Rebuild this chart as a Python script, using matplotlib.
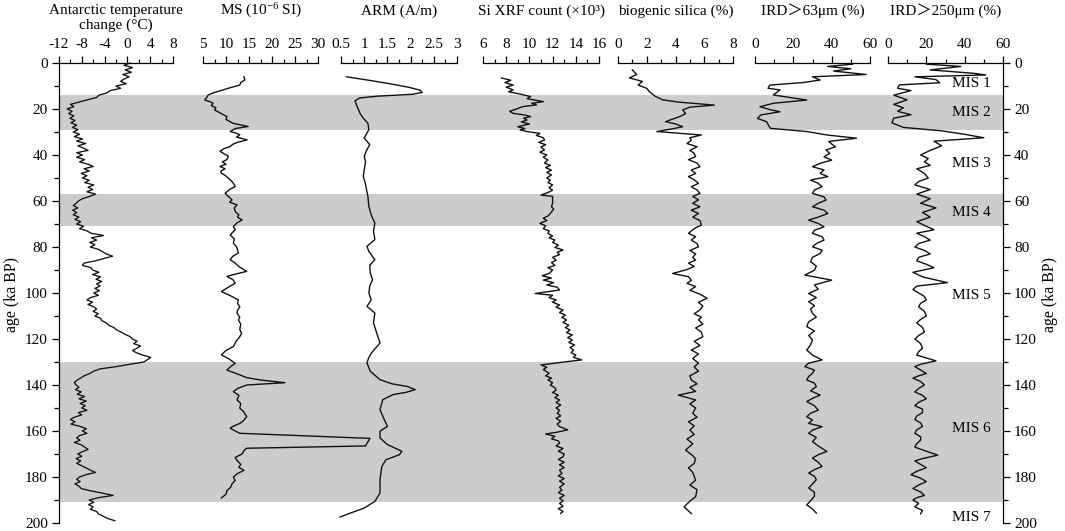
import matplotlib
matplotlib.use('Agg')
import matplotlib.pyplot as plt
from matplotlib.ticker import MultipleLocator

plt.rcParams['font.family'] = ['Liberation Serif', 'Noto Sans CJK SC']
plt.rcParams['mathtext.fontset'] = 'custom'
plt.rcParams['mathtext.rm'] = 'Liberation Serif'
plt.rcParams['mathtext.it'] = 'Liberation Serif:italic'

# Antarctic temperature change (deg C), 1 ka steps
temp_age = list(range(0, 200))
temp_val = [0.5, -0.6, 0.9, -0.4, 0.7, -0.8, 0.3, -0.6, -1.2, -0.2,
            -2.0, -1.2, -3.0, -3.6, -5.0, -5.4, -7.0, -8.5, -10.0, -9.4,
            -10.6, -9.7, -10.3, -9.4, -10.1, -9.2, -9.9, -8.9, -9.6, -8.7,
            -9.5, -8.4, -9.3, -7.9, -8.9, -7.3, -8.7, -7.7, -6.9, -8.9,
            -7.9, -8.9, -7.5, -8.4, -6.9, -6.0, -7.6, -6.7, -8.1, -7.1,
            -7.9, -6.7, -7.5, -5.9, -6.9, -6.1, -7.1, -5.6, -6.6, -7.9,
            -8.6, -9.0, -9.5, -8.7, -9.6, -8.9, -9.5, -8.5, -9.2, -8.2,
            -8.9, -7.7, -8.4, -7.1, -6.4, -4.2, -6.3, -5.4, -6.6, -5.7,
            -6.5, -5.1, -4.4, -3.7, -2.6, -4.1, -5.6, -7.6, -7.9, -6.4,
            -6.1, -5.0, -6.1, -4.7, -5.5, -4.5, -5.4, -4.8, -5.7, -4.9,
            -5.9, -5.1, -6.5, -7.1, -6.1, -6.9, -5.9, -5.4, -6.0, -5.1,
            -5.7, -4.7, -4.5, -3.7, -3.3, -2.4, -1.9, -1.1, -0.4, 0.5,
            0.9, 1.7, 1.1, 2.3, 1.7, 0.9, 1.6, 2.7, 4.1, 3.5,
            2.9, 0.4, -1.9, -4.8, -5.9, -6.6, -7.6, -8.2, -8.9, -9.3,
            -9.0, -8.5, -9.1, -8.1, -8.8, -7.5, -8.5, -7.2, -8.3, -7.4,
            -8.0, -7.1, -8.6, -8.0, -9.3, -10.0, -9.2, -9.9, -8.3, -7.2,
            -7.9, -7.1, -8.4, -8.9, -8.3, -9.3, -8.1, -7.5, -6.9, -7.9,
            -8.7, -8.0, -9.0, -8.2, -8.9, -8.1, -7.3, -6.5, -5.6, -7.3,
            -8.4, -8.9, -8.3, -9.2, -8.5, -8.1, -6.5, -4.4, -2.5, -5.1,
            -6.7, -5.9, -6.8, -6.0, -6.5, -5.4, -5.1, -4.3, -3.5, -2.2]

# magnetic susceptibility (10^-6 SI)
ms_age = [6, 7.4, 8.5, 9.6, 10.7, 11.7, 12.8, 13.9, 15, 16.1, 16.8, 17.5, 18.5, 19.5, 20.4,
          21.8, 23.3, 24.5, 26.2, 27.6, 28.5, 29.8, 30.5, 31.2, 32.2, 33.4, 34.5, 35.3, 36.3,
          37.3, 38.4, 39.5, 40.5, 42, 43, 44, 45, 46, 47, 47.9, 49, 50.8, 52, 53.7, 55, 56.6,
          58, 59.5, 60.5, 61.7, 63, 64.6, 66, 67, 68.2, 69.5, 71.1, 72.5, 74.7, 76.5, 78.3,
          80, 82.6, 84, 85.5, 87, 88.5, 90.6, 91.8, 92.8, 94.2, 95.7, 97.5, 99.4, 101, 103,
          104.5, 106, 107.5, 108.8, 110.5, 111.7, 113.5, 116, 117.5, 119, 121, 123.3, 125,
          126.9, 128.5, 130.6, 132, 133.5, 135.6, 136.8, 137.8, 139, 140, 141.5, 142.9, 144.5,
          146.5, 148, 150.1, 151.5, 153.8, 155.5, 156.7, 158, 158.8, 160, 161, 163.2, 166.5,
          167.5, 168.5, 170, 171.5, 172.8, 174.5, 175.8, 177.1, 178.5, 180, 181.5, 183, 184.5,
          185.9, 187.5, 189.1]
ms_val = [13.9, 14.1, 13.2, 13.0, 11.0, 9.3, 7.5, 6.1, 5.8, 5.4, 6.5, 7.2, 6.8, 7.8, 7.5,
          8.8, 10.2, 10.0, 11.5, 14.8, 12.0, 10.9, 12.2, 13.0, 12.3, 14.6, 12.5, 11.5, 10.9,
          9.5, 8.7, 9.6, 10.5, 10.2, 9.2, 10.0, 8.7, 9.8, 8.9, 9.0, 9.9, 10.9, 11.5, 12.0, 10.8, 9.8,
          10.5, 11.3, 10.8, 12.4, 11.8, 12.0, 12.8, 12.5, 13.5, 12.4, 11.6, 12.0, 10.9, 11.8, 11.6,
          12.3, 12.7, 11.5, 10.9, 12.0, 12.8, 14.5, 12.0, 10.2, 11.5, 12.0, 10.5, 9.0, 10.8, 12.7,
          12.5, 13.0, 12.5, 12.4, 13.0, 12.7, 13.2, 13.0, 13.4, 13.0, 12.2, 11.6, 10.0,
          9.0, 10.5, 12.0, 11.0, 10.2, 13.0, 14.5, 17.4, 22.8, 14.5, 12.5, 11.6, 12.8,
          12.4, 13.2, 13.0, 13.8, 14.5, 13.8, 13.0, 11.5, 10.9, 12.0, 13.0, 41.3, 40.3,
          14.5, 13.9, 13.5, 12.0, 12.4, 13.2, 12.8, 13.9, 12.5, 11.6, 12.0, 11.3, 11.0,
          10.2, 10.0, 9.0]

# ARM (A/m)
arm_age = [6, 7.5, 9, 10.5, 11.8, 12.8, 13.6, 14.4, 15.2, 16.5, 19, 21.9, 24, 26.2, 29, 32.6,
           35.5, 38, 40.6, 43, 46.4, 49.3, 52, 55.1, 58, 62.3, 66, 69.6, 73, 76.8, 79.7, 81.9,
           85.5, 88, 91.3, 94.2, 97, 100, 103, 105.8, 108.7, 113, 117.4, 121.7, 126, 128, 130.4,
           134, 137.7, 139.5, 140.6, 142, 143.2, 144.2, 146.4, 150.7, 153.6, 158, 160.1, 163,
           165.9, 168.8, 170.3, 172.5, 175.4, 181.2, 187, 190.6, 193.5, 195.7, 197.4]
arm_val = [0.62, 1.1, 1.55, 1.95, 2.2, 2.25, 2.05, 1.3, 0.9, 0.8, 0.85, 0.91, 0.98, 1.08, 1.1, 1.0,
           1.12, 1.05, 1.0, 1.03, 1.0, 0.98, 1.02, 1.05, 1.08, 1.1, 1.15, 1.23, 1.2, 1.23, 1.06, 1.1,
           1.23, 1.12, 1.13, 1.18, 1.12, 1.1, 1.15, 1.06, 1.23, 1.2, 1.27, 1.34, 1.16, 1.1, 1.06,
           1.13, 1.34, 1.6, 1.92, 2.1, 1.9, 1.62, 1.4, 1.34, 1.4, 1.5, 1.34, 1.34,
           1.5, 1.81, 1.76, 1.47, 1.38, 1.34, 1.34, 1.23, 1.0, 0.7, 0.48]

# Si XRF count (x10^3)
si_age = [6.5, 7.5, 8.5, 9.6, 10.5, 11.7, 12.5, 13.5, 14.6, 15.5, 16.8, 17.5, 18.2, 19, 20, 21,
          21.9, 22.6, 23.3, 24, 24.8, 25.6, 26.5, 27.7, 28.5, 29.1, 29.8, 30.6, 31.5, 32.5, 33.5,
          34.5, 35.5, 36.5, 37.8, 38.8, 40, 41, 42.2, 43.5, 44.5, 45.5, 46.6, 47.6, 48.7, 50,
          50.9, 52, 53, 54.2, 55.3, 56.3, 57.4, 58, 59.6, 61, 62.5, 63.5, 65.4, 66.5, 67.5, 68.5,
          69.7, 70.8, 72, 73, 74.1, 75.2, 76, 77, 78, 79.2, 80.2, 81.3, 82.3, 83.3, 84.5, 85.7,
          86.8, 88, 89, 90, 91.5, 92.5, 93.5, 94.4, 95.5, 96.5, 97.5, 98.7, 99.5, 100.2, 101,
          102, 103, 104, 105.2, 106.2, 107.4, 108.5, 109.6, 110.6, 111.7, 112.8, 114, 115,
          116.1, 117.2, 118.3, 119.4, 120.4, 121.5, 122.6, 123.7, 124.8, 126, 127, 128, 129.1,
          130.3, 131.3, 132.3, 133.3, 134.9, 136, 137, 137.8, 139, 140, 141.2, 142.2, 143.3,
          144.4, 145.5, 146.5, 147.6, 148.7, 150, 151, 152.3, 153.4, 154.5, 155.7, 157, 158.1,
          159.5, 160.5, 161.3, 162.3, 163.4, 164.3, 165.3, 166.5, 167.6, 168.8, 170, 171.2,
          172.4, 173.6, 174.7, 175.9, 177, 178.4, 179.5, 180.7, 181.8, 183, 184.5, 185.7, 186.8,
          188, 189.2, 190.3, 191.5, 192.7, 193.8, 195, 195.8]
si_val = [7.6, 8.4, 7.9, 8.6, 8.0, 8.6, 8.2, 9.2, 10.1, 9.8, 11.2, 10.2, 10.6, 9.4, 8.9, 8.3,
          8.6, 9.6, 10.1, 9.5, 9.8, 9.3, 10.0, 9.0, 9.6, 9.2, 9.8, 10.9, 10.6, 11.2, 11.3,
          10.8, 11.4, 11.0, 11.3, 10.9, 11.5, 11.2, 11.6, 11.3, 11.8, 11.4, 11.9, 11.5, 11.9, 11.5,
          11.8, 11.6, 12.0, 11.7, 12.0, 11.6, 11.0, 12.0, 12.0, 12.0, 11.9, 12.1, 11.8, 11.6, 11.2, 11.5,
          10.9, 11.4, 11.2, 11.7, 11.6, 12.0, 11.7, 12.2, 12.0, 12.5, 12.2, 12.9, 12.4, 12.6, 12.0, 12.3,
          11.9, 12.2, 11.6, 12.0, 11.7, 11.1, 11.9, 11.2, 12.1, 11.5, 12.4, 12.6, 11.5, 10.5, 12.0,
          11.7, 12.3, 12.0, 12.6, 12.3, 12.9, 12.6, 13.1, 12.8, 13.2, 12.9, 13.4, 13.1,
          13.5, 13.2, 13.7, 13.3, 13.7, 13.4, 13.9, 13.5, 13.8, 13.6, 14.0, 13.8, 14.5,
          12.5, 11.0, 11.5, 11.2, 11.7, 11.4, 11.9, 11.6, 12.0, 11.8, 12.2, 12.3, 12.0,
          12.5, 12.2, 12.6, 12.3, 12.7, 12.3, 12.6, 12.4, 12.7, 12.3, 12.7, 12.4, 12.6,
          13.3, 12.4, 11.4, 12.2, 11.9, 12.5, 12.6, 12.3, 12.9, 12.5, 13.0, 12.9,
          12.5, 13.0, 12.6, 13.0, 12.6, 12.8, 12.5, 13.0, 12.6, 13.0, 12.6, 12.8, 12.5,
          13.0, 12.6, 12.9, 12.6, 12.9, 12.5, 12.9, 12.7]

# biogenic silica (%)
bsi_age = [3, 5, 6.5, 8, 9.6, 11, 12.6, 14.5, 16, 17, 18.3, 19.2, 20.4, 22, 23.3, 25.5, 26.5, 27.7,
           28.6, 29.8, 31.3, 32.5, 33.5, 35, 36.4, 38, 39.3, 40.7, 42, 43.5, 45.1, 46.5, 48, 49.4,
           50.8, 52.3, 53.8, 55.2, 56.7, 58, 59.5, 61, 62.5, 64, 65.4, 67, 68.5, 70.4, 72, 74.1,
           75.5, 77, 78.5, 79.9, 81.5, 83, 84.5, 85.7, 87, 88.5, 90, 91.5, 92.9, 94.5, 95.8, 97.2,
           98.8, 100.5, 102.3, 104, 105.7, 107.4, 109, 110.5, 111.7, 113.5, 115.2, 117, 119, 121,
           122.8, 124.8, 126.5, 128.5, 130.5, 132.1, 134, 136, 137.8, 139.5, 141, 142.8, 144.4,
           146.5, 148.2, 150, 152.3, 154, 156, 157.8, 159.6, 161.5, 163.5, 165.5, 168.3, 170.2,
           172, 174.1, 176, 178, 181.4, 183.5, 185.5, 188.6, 190.5, 193, 195.9]
bsi_val = [1.0, 1.3, 0.8, 1.7, 1.4, 2.0, 2.2, 2.6, 3.1, 4.2, 6.7, 5.0, 4.5, 4.7, 4.3, 3.3, 4.0, 4.5,
           3.8, 2.7, 5.8, 5.0, 5.1, 4.8, 5.5, 5.0, 5.3, 5.4, 4.9, 5.5, 5.7, 5.1, 5.4, 4.9,
           5.3, 5.6, 5.1, 5.5, 5.7, 5.2, 5.6, 5.2, 5.7, 5.1, 5.6, 5.2, 5.7, 5.8, 5.3, 4.9,
           5.4, 5.1, 5.5, 5.6, 5.0, 5.4, 5.2, 5.4, 4.9, 5.3, 4.7, 3.8, 4.9, 5.1, 4.8, 5.4,
           5.0, 5.7, 6.2, 5.6, 5.9, 5.7, 5.3, 5.8, 5.6, 5.9, 5.4, 5.8, 5.9, 5.3,
           5.7, 5.1, 5.6, 5.2, 5.6, 5.3, 5.6, 5.0, 5.1, 5.5, 5.0, 5.4, 4.2,
           5.4, 5.0, 5.4, 5.2, 5.5, 4.9, 5.3, 5.0, 5.3, 4.8, 5.2, 4.7, 5.1,
           5.4, 5.3, 4.9, 5.2, 5.4, 5.0, 5.5, 5.4, 5.0, 4.6, 5.1]

# IRD > 63 um (%)
ird63_age = [0.5, 1.5, 2.5, 3.5, 5, 6, 7.4, 8.5, 9.6, 11, 11.7, 13, 13.9, 16.1, 17.5, 19, 20.3, 21.2,
             22.6, 24.1, 25.5, 27, 28.4, 29.8, 31.3, 32.7, 34.1, 35.2, 36.4, 37.8, 39.3, 40.8, 42.2,
             43.6, 45.1, 46.5, 48, 49.4, 50.9, 52.3, 53.8, 55.2, 56.7, 58.2, 59.6, 61, 62.5, 64,
             65.4, 67, 68.3, 69.8, 71.2, 72.7, 74.1, 75.5, 77, 78.5, 79.9, 81.4, 82.8, 84.5, 86.4,
             88.3, 90.1, 92.2, 94.4, 96.5, 98.3, 100.2, 102, 103.8, 105.5, 107, 108.8, 110.5,
             112.5, 114.6, 116.5, 118.5, 120.4, 122.5, 124.8, 127, 129.1, 130.5, 132, 133.5,
             134.9, 136.3, 137.8, 139.2, 140.7, 142.5, 144.4, 145.8, 147.2, 149, 150.9, 152.3,
             153.8, 155.2, 156.7, 158.1, 159.6, 161, 162.8, 164.6, 166.5, 168.9, 170.3, 171.8,
             173.6, 175.4, 176.8, 178.3, 179.7, 181.2, 183, 184.8, 186.6, 188.4, 190.3, 192.1,
             193.9, 195.7]
ird63_val = [51, 38, 50, 41, 58, 30, 34, 25, 7.8, 6.8, 13, 11, 9.6, 27, 9.6, 2.6, 8, 13,
             3, 1.3, 6, 7, 8, 27, 37.6, 53, 38.5, 40, 42, 37, 39, 36, 40,
             34, 30, 36, 34, 38, 29, 33, 35, 31, 30, 36, 37, 33, 30, 36,
             38, 33, 28, 33, 36, 31, 30, 35, 36, 32, 30, 35, 34, 30, 29,
             32, 31, 26, 40, 31, 33, 28, 32, 28, 31, 29, 30, 32,
             28, 27, 31, 28, 30, 29, 27, 30, 35, 28, 26, 31,
             30, 28, 27, 31, 32, 29, 34, 30, 27, 31, 33, 29,
             27, 30, 28, 35, 30, 28, 32, 30, 33, 37.5, 33, 30,
             33, 35, 31, 28, 31, 32, 30, 28, 31, 31, 29, 27,
             30, 32]

# IRD > 250 um (%)
ird250_age = [0.5, 1.5, 3, 4.5, 5.2, 6, 7.2, 8.6, 9.5, 11, 12, 14, 16, 18, 19.5, 21, 22.5, 24, 26,
              28, 29.5, 31, 32.5, 34, 36, 38, 40, 41.5, 43, 44.5, 46, 48, 50, 51.5, 53, 55, 57,
              59, 61, 63, 65, 67, 69, 71, 72.5, 74, 75.5, 77, 78.5, 80, 81.5, 83, 84.5, 86, 87.5,
              89, 91, 93, 95.5, 97, 98.5, 100, 101.5, 103, 104.5, 106, 108, 110, 111.5, 113, 115,
              117, 118.5, 120, 122, 124, 125.5, 127, 129.5, 131, 132, 133.5, 135, 136, 137, 138.5,
              140, 141.5, 143, 144.5, 146, 147.5, 149, 150.5, 152, 153.5, 155, 156.5, 158, 159.5,
              161, 162.5, 164, 165.5, 167, 168.8, 170.5, 172, 173, 174.5, 176, 177.5, 179, 180.5,
              182, 183.5, 185, 186.5, 188, 189, 190, 191.5, 193, 194.5, 196]
ird250_val = [20, 38, 22, 45, 51, 14, 25, 27, 6, 5, 12, 3, 10, 3, 8, 5, 12, 3, 2,
              8, 28, 40, 50, 24, 28, 22, 17, 21, 19, 22, 15, 19, 21, 16, 14, 22, 15,
              22, 17, 25, 18, 22, 15, 20, 24, 15, 19, 22, 16, 14, 19, 22, 16, 15, 20,
              24, 13, 18, 31, 15, 13, 16, 19, 20, 17, 16, 19, 20, 17, 15, 18,
              19, 16, 14, 17, 18, 16, 15, 25, 17, 14, 17, 20, 16, 13, 17,
              19, 16, 14, 18, 20, 16, 14, 18, 18, 15, 14, 17, 18, 15,
              14, 17, 17, 15, 14, 20, 26, 18, 14, 17, 20, 15, 12, 17,
              20, 16, 13, 17, 19, 15, 13, 16, 14, 18, 17]

# marine isotope stages
mis_bands = [(14, 29), (57, 71), (130, 191)]
mis_names = ['MIS 1', 'MIS 2', 'MIS 3', 'MIS 4', 'MIS 5', 'MIS 6', 'MIS 7']
mis_label_age = [9, 21.5, 43.5, 65, 101, 159, 197.5]


def main():
    W, H = 1065, 531
    fig = plt.figure(figsize=(W / 100, H / 100), dpi=100)

    top_px, bot_px = 63, 523
    y0 = 1 - bot_px / H
    hgt = (bot_px - top_px) / H

    # background axes: bands, age axes, MIS labels
    base = fig.add_axes([59 / W, y0, (1003 - 59) / W, hgt])
    base.set_xlim(0, 1)
    base.set_ylim(200, 0)
    for a, b in mis_bands:
        base.axhspan(a, b, color='#cccccc', lw=0)
    for s in ['top', 'bottom']:
        base.spines[s].set_visible(False)
    for s in ['left', 'right']:
        base.spines[s].set_linewidth(0.9)
    base.set_xticks([])
    base.yaxis.set_major_locator(MultipleLocator(20))
    base.yaxis.set_minor_locator(MultipleLocator(10))
    base.tick_params(axis='y', which='both', direction='out', left=True, right=True,
                     labelleft=True, labelright=True, labelsize=11, width=0.9, pad=3)
    base.tick_params(axis='y', which='major', length=5)
    base.tick_params(axis='y', which='minor', length=3.5)
    for name, age in zip(mis_names, mis_label_age):
        base.text(0.967, age, name, ha='center', va='center', fontsize=11)

    fig.text(12 / W, 1 - 294 / H, 'age (ka BP)', rotation=90, ha='center', va='center', fontsize=11.5)
    fig.text(1050 / W, 1 - 294 / H, 'age (ka BP)', rotation=90, ha='center', va='center', fontsize=11.5)

    panels = [
        (59, 173, (-12, 8), 4, 2, temp_val, temp_age, 'Antarctic temperature\nchange (°C)'),
        (203, 318, (5, 30), 5, 2.5, ms_val, ms_age, r'MS (10$^{-6}$ SI)'),
        (341, 457, (0.5, 3), 0.5, 0.25, arm_val, arm_age, 'ARM (A/m)'),
        (483, 599, (6, 16), 2, 1, si_val, si_age, 'Si XRF count (×10³)'),
        (618, 733, (0, 8), 2, 1, bsi_val, bsi_age, 'biogenic silica (%)'),
        (755, 870, (0, 60), 20, 10, ird63_val, ird63_age, 'IRD＞63μm (%)'),
        (888, 1003, (0, 60), 20, 10, ird250_val, ird250_age, 'IRD＞250μm (%)'),
    ]

    for i, (l, r, xlim, major, minor, vals, ages, title) in enumerate(panels):
        ax = fig.add_axes([l / W, y0, (r - l) / W, hgt])
        ax.patch.set_visible(False)
        ax.set_xlim(*xlim)
        ax.set_ylim(200, 0)
        for s in ['bottom', 'left', 'right']:
            ax.spines[s].set_visible(False)
        ax.spines['top'].set_linewidth(0.9)
        ax.set_yticks([])
        ax.xaxis.tick_top()
        ax.xaxis.set_major_locator(MultipleLocator(major))
        ax.xaxis.set_minor_locator(MultipleLocator(minor))
        ax.tick_params(axis='x', which='both', direction='out', labelsize=11, width=0.9, pad=4)
        ax.tick_params(axis='x', which='major', length=4.7)
        ax.tick_params(axis='x', which='minor', length=2.8)
        ax.xaxis.set_major_formatter(plt.FuncFormatter(lambda v, p: f'{v:g}'))
        lw = 0.95 if i == 0 else 1.0
        ax.plot(vals, ages, color='#111111', lw=lw, clip_on=False)

        cx = (l + r) / 2 / W
        if '\n' in title:
            fig.text(cx, 1 - 18 / H, title, ha='center', va='center', fontsize=11, linespacing=1.12)
        else:
            fig.text(cx, 1 - 11 / H, title, ha='center', va='center', fontsize=11)

    fig.savefig('out.png', dpi=100)


if __name__ == '__main__':
    main()
